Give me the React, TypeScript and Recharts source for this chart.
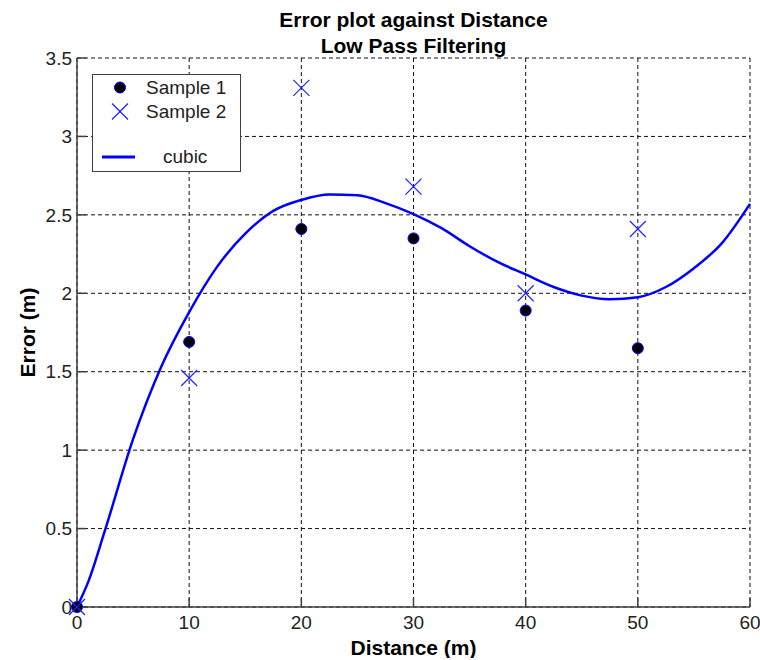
import {
  ComposedChart,
  Line,
  Scatter,
  XAxis,
  YAxis,
  CartesianGrid,
  Legend,
  Label,
} from 'recharts';

// measured points
const distances = [0, 10, 20, 30, 40, 50];
const sample1 = [0, 1.69, 2.41, 2.35, 1.89, 1.65];
const sample2 = [0, 1.46, 3.31, 2.68, 2.0, 2.41];

// cubic fit
const cubicX = [0, 1, 2.5, 5, 7.5, 10, 12.5, 15, 17.5, 20, 22.5, 25, 27.5, 30, 32.5, 35, 37.5, 40, 42.5, 45, 47.5, 50, 52.5, 55, 57.5, 60];
const cubicY = [0, 0.16, 0.49, 1.07, 1.53, 1.88, 2.17, 2.38, 2.525, 2.595, 2.63, 2.625, 2.575, 2.505, 2.415, 2.3, 2.2, 2.12, 2.04, 1.985, 1.962, 1.975, 2.04, 2.16, 2.32, 2.57];

const xTicks = [0, 10, 20, 30, 40, 50, 60];
const yTicks = [0, 0.5, 1, 1.5, 2, 2.5, 3, 3.5];

const sample1Data = distances.map((x, i) => ({ x, y: sample1[i] }));
const sample2Data = distances.map((x, i) => ({ x, y: sample2[i] }));
const cubicData = cubicX.map((x, i) => ({ x, y: cubicY[i] }));

const FONT = '"Liberation Sans", Arial, Helvetica, sans-serif';
const AXIS = '#404040';
const TEXT = '#222';

function FilledDot(props: any) {
  const { cx, cy } = props;
  return <circle cx={cx} cy={cy} r={5.5} fill="#000" stroke="#0000ff" strokeWidth={1} />;
}

function XMark(props: any) {
  const { cx, cy } = props;
  const s = 8;
  return (
    <g stroke="#2020ff" strokeWidth={1.2}>
      <line x1={cx - s} y1={cy - s} x2={cx + s} y2={cy + s} />
      <line x1={cx - s} y1={cy + s} x2={cx + s} y2={cy - s} />
    </g>
  );
}

function LegendBox() {
  const textStyle = {
    position: 'absolute' as const,
    fontSize: 19,
    lineHeight: '20px',
    color: TEXT,
    fontFamily: FONT,
    whiteSpace: 'nowrap' as const,
  };
  return (
    <div
      style={{
        position: 'relative',
        width: 149,
        height: 98,
        boxSizing: 'border-box',
        border: `1.5px solid ${AXIS}`,
        background: '#fff',
      }}
    >
      <svg width={149} height={98} style={{ position: 'absolute', left: -1.5, top: -1.5 }}>
        <FilledDot cx={28} cy={13.5} />
        <XMark cx={28} cy={37.5} />
        <line x1={10} y1={83} x2={43} y2={83} stroke="#0000ff" strokeWidth={3} />
      </svg>
      <span style={{ ...textStyle, left: 53, top: 3 }}>Sample 1</span>
      <span style={{ ...textStyle, left: 53, top: 27 }}>Sample 2</span>
      <span style={{ ...textStyle, left: 70, top: 72 }}>cubic</span>
    </div>
  );
}

export default function App() {
  const tickStyle = { fontSize: 19, fill: TEXT, fontFamily: FONT };
  return (
    <div style={{ position: 'relative', width: 752, height: 650, fontFamily: FONT }}>
      {/* body is narrower than the chart; widen it so the "60" label is not cut */}
      <style>{'body{margin-right:0}.recharts-surface{overflow:visible}'}</style>
      <div
        style={{
          position: 'absolute',
          left: 69,
          width: 673,
          top: -1,
          textAlign: 'center',
          fontWeight: 'bold',
          fontSize: 21,
          lineHeight: '26px',
          color: '#000',
        }}
      >
        <div>Error plot against Distance</div>
        <div>Low Pass Filtering</div>
      </div>
      <ComposedChart
        width={752}
        height={650}
        margin={{ top: 50, right: 10, left: 9, bottom: 1 }}
      >
        <CartesianGrid stroke="#111" strokeDasharray="4 3" />
        <XAxis
          dataKey="x"
          type="number"
          domain={[0, 60]}
          ticks={xTicks}
          interval={0}
          height={50}
          tickSize={-9}
          tickMargin={18}
          tick={tickStyle}
          stroke={AXIS}
          strokeWidth={1.5}
        >
          <Label
            value="Distance (m)"
            position="insideBottom"
            offset={2}
            style={{ fontSize: 21, fontWeight: 'bold', fill: '#000', fontFamily: FONT }}
          />
        </XAxis>
        <XAxis
          xAxisId="top"
          orientation="top"
          type="number"
          domain={[0, 60]}
          ticks={xTicks}
          interval={0}
          height={0}
          mirror
          tick={false}
          tickSize={9}
          stroke={AXIS}
          strokeWidth={1.5}
        />
        <YAxis
          type="number"
          domain={[0, 3.5]}
          ticks={yTicks}
          interval={0}
          width={60}
          tickSize={-9}
          tickMargin={14}
          tick={tickStyle}
          stroke={AXIS}
          strokeWidth={1.5}
        >
          <Label
            value="Error (m)"
            angle={-90}
            position="insideLeft"
            offset={11}
            style={{ fontSize: 21, fontWeight: 'bold', fill: '#000', fontFamily: FONT, textAnchor: 'middle' }}
          />
        </YAxis>
        <YAxis
          yAxisId="right"
          orientation="right"
          type="number"
          domain={[0, 3.5]}
          ticks={yTicks}
          interval={0}
          width={0}
          mirror
          tick={false}
          tickSize={9}
          stroke={AXIS}
          strokeWidth={1.5}
        />
        <Legend
          layout="horizontal"
          verticalAlign="middle"
          align="center"
          content={() => <LegendBox />}
          wrapperStyle={{ left: 84, top: 66, width: 149, height: 98 }}
        />
        <Line
          data={cubicData}
          dataKey="y"
          type="monotone"
          stroke="#0000ff"
          strokeWidth={2.5}
          dot={false}
          activeDot={false}
          isAnimationActive={false}
          legendType="none"
        />
        <Scatter
          data={sample1Data}
          dataKey="y"
          shape={FilledDot}
          isAnimationActive={false}
        />
        <Scatter
          data={sample2Data}
          dataKey="y"
          shape={XMark}
          isAnimationActive={false}
        />
      </ComposedChart>
    </div>
  );
}
